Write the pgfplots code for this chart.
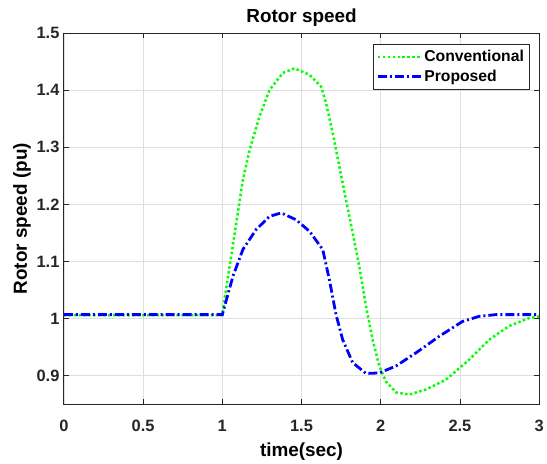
\documentclass[border=0pt]{standalone}
\usepackage{pgfplots}
\pgfplotsset{compat=1.18}
\usepackage{fontspec}
\setmainfont{Liberation Sans}
\definecolor{axgray}{rgb}{0.15,0.15,0.15}
\definecolor{grd}{rgb}{0.87,0.87,0.87}
\begin{document}
\begin{tikzpicture}
\begin{axis}[
  at={(0,0)}, anchor=south west,
  scale only axis, width=476bp, height=372bp,
  xmin=0, xmax=3, ymin=0.85, ymax=1.5,
  xtick={0,0.5,...,3}, ytick={0.9,1,...,1.5},
  yticklabels={0.9,1,1.1,1.2,1.3,1.4,1.5},
  xticklabels={0,0.5,1,1.5,2,2.5,3},
  grid=major, major grid style={grd, line width=0.6bp},
  axis line style={axgray, line width=0.8bp},
  tick style={axgray, line width=0.8bp},
  tick align=inside, major tick length=5bp,
  xtick pos=both, ytick pos=both,
  ticklabel style={font=\fontsize{16.5}{18}\selectfont\bfseries, text=axgray},
  xticklabel style={yshift=-12bp},
  yticklabel style={xshift=-1bp},
  xlabel={time(sec)}, ylabel={Rotor speed (pu)},
  label style={font=\fontsize{19}{21}\selectfont\bfseries},
  xlabel style={yshift=-4bp},
  ylabel style={yshift=-1bp},
  title={Rotor speed},
  title style={font=\fontsize{19}{21}\selectfont\bfseries, yshift=-3bp},
  legend style={at={(0.979,0.970)}, anchor=north east, draw=axgray, line width=0.6bp,
    font=\fontsize{15.8}{18}\selectfont\bfseries, row sep=3bp, inner xsep=3bp, inner ysep=4bp},
  legend cell align=left,
  legend image code/.code={\draw[#1] (0bp,0bp) -- (43bp,0bp);},
  clip=true,
]
\addplot[color={rgb,1:red,0;green,1;blue,0}, line width=2.5bp, dash pattern=on 2.4bp off 2.5bp] coordinates {
(0,1.006) (1.0,1.006) (1.02,1.045) (1.046,1.091) (1.088,1.167) (1.130,1.243) (1.172,1.295) (1.235,1.354) (1.298,1.400) (1.382,1.430) (1.455,1.438) (1.55,1.427) (1.624,1.406) (1.655,1.377) (1.697,1.325) (1.739,1.266) (1.781,1.208) (1.823,1.150) (1.865,1.091) (1.907,1.022) (1.949,0.963) (1.991,0.917) (2.033,0.890) (2.096,0.871) (2.18,0.867) (2.285,0.876) (2.411,0.893) (2.558,0.928) (2.684,0.963) (2.81,0.987) (2.936,1.001) (3.0,1.004)
};
\addlegendentry{Conventional}
\addplot[color={rgb,1:red,0;green,0;blue,1}, line width=2.8bp, dash pattern=on 9bp off 3bp on 2bp off 3bp] coordinates {
(0,1.007) (1.0,1.007) (1.067,1.074) (1.130,1.121) (1.214,1.156) (1.298,1.179) (1.372,1.185) (1.466,1.173) (1.55,1.153) (1.634,1.121) (1.676,1.068) (1.718,1.007) (1.760,0.963) (1.823,0.923) (1.907,0.904) (1.991,0.905) (2.096,0.917) (2.222,0.940) (2.369,0.969) (2.516,0.995) (2.621,1.004) (2.726,1.007) (3.0,1.007)
};
\addlegendentry{Proposed}
\end{axis}
\useasboundingbox (-64bp,-58bp) rectangle (483bp,405bp);
\end{tikzpicture}
\end{document}
